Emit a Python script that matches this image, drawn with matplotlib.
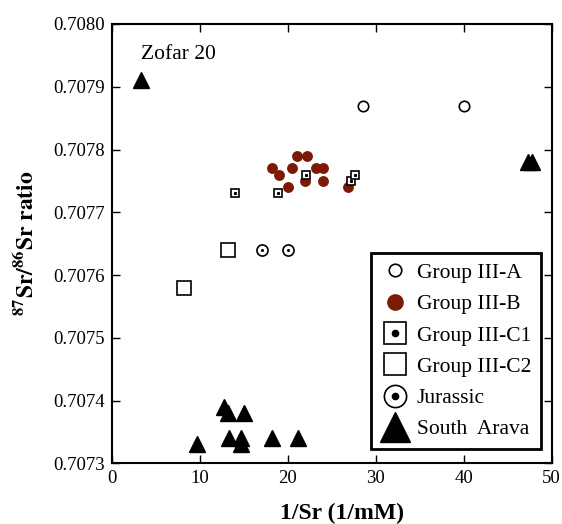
import matplotlib
matplotlib.use("Agg")
import matplotlib.pyplot as plt
from matplotlib.lines import Line2D

plt.rcParams['font.family'] = ['Liberation Serif', 'DejaVu Serif']
plt.rcParams['mathtext.fontset'] = 'stix'

# data
ga_x = [28.5, 40.0]
ga_y = [0.70787, 0.70787]

gb_x = [18.2, 19.0, 20.5, 21.0, 22.2, 21.9, 23.2, 24.0, 24.0, 20.0, 26.8]
gb_y = [0.70777, 0.70776, 0.70777, 0.70779, 0.70779, 0.70775, 0.70777, 0.70777,
        0.70775, 0.70774, 0.70774]

gc1_x = [14.0, 18.9, 22.1, 27.2, 27.6]
gc1_y = [0.70773, 0.70773, 0.70776, 0.70775, 0.70776]

gc2_x = [13.2, 8.15]
gc2_y = [0.70764, 0.70758]

jur_x = [17.1, 20.0]
jur_y = [0.70764, 0.70764]

sa_x = [3.3, 47.3, 47.8, 12.7, 13.2, 15.0, 13.3, 14.7, 14.7, 18.2, 21.2, 9.7]
sa_y = [0.70791, 0.70778, 0.70778, 0.70739, 0.70738, 0.70738, 0.70734, 0.70734,
        0.70733, 0.70734, 0.70734, 0.70733]

red = '#7b1a05'

fig = plt.figure(figsize=(5.62, 5.24), dpi=100)
ax = fig.add_axes([0.1993, 0.1158, 0.7824, 0.8384])

ax.plot(ga_x, ga_y, 'o', ms=7.5, mfc='white', mec='black', mew=1.2, ls='none')
ax.plot(gb_x, gb_y, 'o', ms=6.8, mfc=red, mec=red, ls='none')
ax.plot(gc1_x, gc1_y, 's', ms=6, mfc='white', mec='black', mew=1.2, ls='none')
ax.plot(gc1_x, gc1_y, 's', ms=1.2, mfc='black', mec='black', ls='none')
ax.plot(gc2_x, gc2_y, 's', ms=9.5, mfc='white', mec='black', mew=1.2, ls='none')
ax.plot(jur_x, jur_y, 'o', ms=8, mfc='white', mec='black', mew=1.2, ls='none')
ax.plot(jur_x, jur_y, 'o', ms=1.2, mfc='black', mec='black', ls='none')
ax.plot(sa_x, sa_y, '^', ms=11, mfc='black', mec='black', ls='none')

ax.text(3.3, 0.707951, 'Zofar 20', fontsize=15.5, va='center', ha='left')

ax.set_xlim(0, 50)
ax.set_ylim(0.7073, 0.7080)
ax.set_xticks([0, 10, 20, 30, 40, 50])
ax.set_yticks([0.7073 + i * 0.0001 for i in range(8)])
ax.set_yticklabels(['%.4f' % (0.7073 + i * 0.0001) for i in range(8)])
ax.tick_params(direction='in', top=True, right=True, length=6, width=1,
               labelsize=13.5, pad=5)
for s in ax.spines.values():
    s.set_linewidth(1.5)

ax.set_xlabel('1/Sr (1/mM)', fontsize=17, fontweight='bold')
ax.xaxis.set_label_coords(0.522, -0.09)
ax.set_ylabel(r'$\mathbf{^{87}Sr/^{86}Sr\ ratio}$', fontsize=17)
ax.yaxis.set_label_coords(-0.166, 0.5)

h_a = Line2D([], [], marker='o', ms=9, mfc='white', mec='black', mew=1.2, ls='none')
h_b = Line2D([], [], marker='o', ms=11, mfc=red, mec=red, ls='none')
h_c1 = (Line2D([], [], marker='s', ms=16, mfc='white', mec='black', mew=1.2, ls='none'),
        Line2D([], [], marker='o', ms=4.5, mfc='black', mec='black', ls='none'))
h_c2 = Line2D([], [], marker='s', ms=16, mfc='white', mec='black', mew=1.2, ls='none')
h_j = (Line2D([], [], marker='o', ms=16, mfc='white', mec='black', mew=1.2, ls='none'),
       Line2D([], [], marker='o', ms=4.5, mfc='black', mec='black', ls='none'))
h_s = Line2D([], [], marker='^', ms=22, mfc='black', mec='black', ls='none')

leg = ax.legend([h_a, h_b, h_c1, h_c2, h_j, h_s],
                ['Group III-A', 'Group III-B', 'Group III-C1', 'Group III-C2',
                 'Jurassic', 'South  Arava'],
                loc='lower right', bbox_to_anchor=(0.9757, 0.0326),
                borderaxespad=0, fontsize=15.5, fancybox=False, framealpha=1,
                edgecolor='black', handlelength=1.4, handletextpad=0.3,
                labelspacing=0.52, borderpad=0.45)
leg.get_frame().set_linewidth(2)

fig.savefig('out.png', dpi=100)
